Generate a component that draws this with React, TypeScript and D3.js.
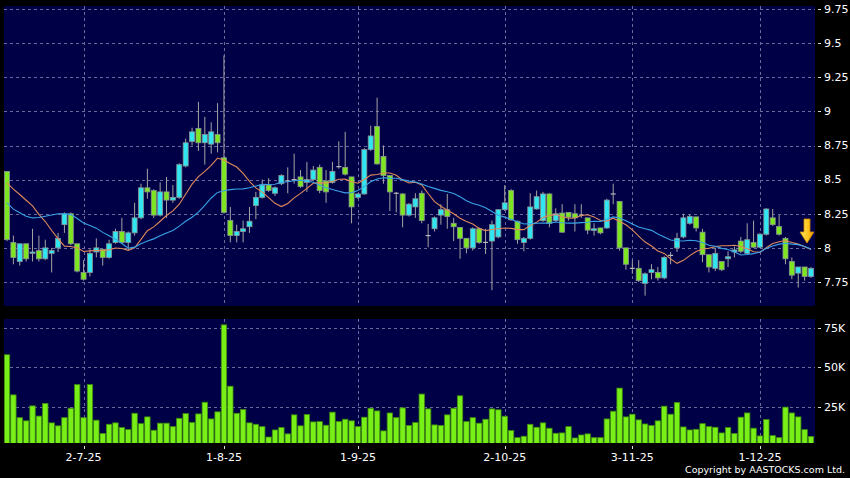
import React from 'react';
import * as d3 from 'd3';

// Daily OHLC (HK$), oldest first
const opens = [
  8.56, 8.04, 7.90, 8.03, 7.96, 7.98, 7.92, 7.96, 8.00, 8.17,
  8.25, 8.03, 7.82, 7.82, 7.97, 7.99, 7.93, 8.04, 8.12, 8.04,
  8.11, 8.22, 8.44, 8.42, 8.24, 8.41, 8.35, 8.37, 8.60, 8.78,
  8.875, 8.77, 8.76, 8.83, 8.66, 8.20, 8.09, 8.12, 8.155, 8.31,
  8.37, 8.46, 8.40, 8.47, 8.49, 8.50, 8.52, 8.48, 8.50, 8.59,
  8.49, 8.48, 8.595, 8.59, 8.52, 8.37, 8.395, 8.72, 8.89, 8.67,
  8.53, 8.40, 8.395, 8.24, 8.30, 8.40, 8.09, 8.14, 8.24, 8.28,
  8.18, 8.15, 8.07, 8.00, 8.14, 8.04, 8.05, 8.08, 8.28, 8.42,
  8.195, 8.04, 8.07, 8.285, 8.20, 8.395, 8.20, 8.255, 8.26, 8.25,
  8.24, 8.22, 8.127, 8.146, 8.146, 8.395, 8.34, 8.00, 7.85, 7.85,
  7.74, 7.82, 7.82, 7.78, 7.945, 8.00, 8.08, 8.18, 8.227, 8.115,
  7.95, 7.85, 7.90, 7.92, 7.97, 8.05, 7.96, 8.04, 8.005, 8.10,
  8.22, 8.156, 8.07, 7.90, 7.815, 7.86, 7.79,
];
const highs = [
  8.56, 8.09, 8.03, 8.03, 8.14, 8.09, 8.06, 8.00, 8.11, 8.26,
  8.26, 8.03, 7.91, 7.99, 8.07, 7.99, 8.06, 8.14, 8.22, 8.12,
  8.33, 8.47, 8.58, 8.43, 8.48, 8.52, 8.46, 8.62, 8.80, 8.88,
  9.07, 8.96, 8.92, 9.06, 9.41, 8.30, 8.17, 8.20, 8.30, 8.41,
  8.50, 8.51, 8.45, 8.54, 8.59, 8.69, 8.57, 8.63, 8.60, 8.61,
  8.57, 8.63, 8.78, 8.85, 8.52, 8.40, 8.73, 8.895, 9.10, 8.75,
  8.53, 8.41, 8.40, 8.33, 8.40, 8.42, 8.175, 8.23, 8.32, 8.395,
  8.22, 8.15, 8.07, 8.15, 8.15, 8.14, 8.20, 8.28, 8.46, 8.43,
  8.20, 8.08, 8.40, 8.42, 8.41, 8.40, 8.29, 8.32, 8.26, 8.32,
  8.32, 8.22, 8.18, 8.146, 8.36, 8.47, 8.34, 8.00, 7.91, 7.91,
  7.82, 7.88, 7.86, 7.94, 7.97, 8.11, 8.25, 8.245, 8.227, 8.14,
  7.95, 8.00, 7.90, 7.975, 8.01, 8.08, 8.18, 8.20, 8.11, 8.29,
  8.285, 8.24, 8.08, 7.93, 7.86, 7.86, 7.86,
];
const lows = [
  8.05, 7.88, 7.87, 7.90, 7.90, 7.90, 7.91, 7.82, 7.97, 8.11,
  8.02, 7.82, 7.76, 7.79, 7.93, 7.87, 7.92, 8.03, 8.03, 7.985,
  8.09, 8.21, 8.36, 8.22, 8.23, 8.22, 8.33, 8.36, 8.59, 8.75,
  8.71, 8.61, 8.69, 8.70, 8.25, 8.04, 8.04, 8.04, 8.11, 8.21,
  8.36, 8.41, 8.38, 8.46, 8.40, 8.47, 8.44, 8.41, 8.49, 8.40,
  8.33, 8.47, 8.58, 8.53, 8.18, 8.36, 8.39, 8.71, 8.61, 8.47,
  8.27, 8.26, 8.15, 8.23, 8.22, 8.18, 8.005, 8.12, 8.17, 8.14,
  8.05, 7.92, 7.96, 7.98, 8.03, 7.955, 7.69, 8.07, 8.27, 8.20,
  8.03, 7.975, 8.06, 8.28, 8.19, 8.15, 8.19, 8.11, 8.20, 8.12,
  8.22, 8.10, 8.09, 8.10, 8.14, 8.32, 7.98, 7.84, 7.81, 7.75,
  7.65, 7.77, 7.76, 7.77, 7.88, 7.97, 8.07, 8.17, 8.12, 7.895,
  7.82, 7.83, 7.83, 7.86, 7.93, 7.96, 7.95, 8.00, 8.00, 8.09,
  8.16, 8.09, 7.88, 7.77, 7.71, 7.76, 7.78,
];
const closes = [
  8.06, 7.93, 8.03, 7.92, 7.97, 7.92, 8.00, 7.98, 8.07, 8.25,
  8.03, 7.83, 7.77, 7.96, 8.00, 7.93, 8.03, 8.12, 8.04, 8.11,
  8.22, 8.44, 8.41, 8.24, 8.41, 8.35, 8.37, 8.61, 8.77, 8.85,
  8.77, 8.83, 8.85, 8.77, 8.26, 8.09, 8.12, 8.14, 8.195, 8.37,
  8.46, 8.42, 8.44, 8.53, 8.49, 8.50, 8.45, 8.50, 8.57, 8.42,
  8.41, 8.56, 8.595, 8.54, 8.30, 8.395, 8.72, 8.82, 8.615, 8.53,
  8.41, 8.40, 8.24, 8.32, 8.36, 8.20, 8.09, 8.22, 8.28, 8.23,
  8.155, 8.07, 8.00, 8.14, 8.04, 8.04, 8.17, 8.28, 8.33, 8.205,
  8.06, 8.07, 8.30, 8.375, 8.395, 8.18, 8.25, 8.115, 8.225, 8.22,
  8.24, 8.13, 8.14, 8.11, 8.35, 8.395, 8.00, 7.88, 7.85, 7.76,
  7.81, 7.84, 7.78, 7.93, 7.945, 8.07, 8.22, 8.23, 8.146, 7.95,
  7.86, 7.96, 7.84, 7.935, 7.985, 7.975, 8.06, 8.005, 8.10, 8.285,
  8.17, 8.10, 7.92, 7.80, 7.86, 7.79, 7.85,
];
// Volume, thousands of shares
const volumes = [
  58, 32.5, 18, 16, 25.5, 19, 27, 14.7, 12.8, 18,
  24, 39, 18, 39, 16.4, 7.9, 13.8, 14.7, 11.7, 10.4,
  20.8, 14.2, 18.5, 10, 14.5, 14.5, 12.3, 17.6, 20.6, 14.9,
  20.4, 27.8, 17.2, 21.7, 77, 38, 20.8, 23.2, 14.7, 13.8,
  12.3, 5.7, 10.2, 11.7, 7.7, 19.8, 12.8, 20, 15.3, 15.5,
  13.2, 21.5, 15.5, 17, 16, 12.3, 18.3, 24, 22.3, 9.6,
  21, 18, 24.2, 13, 14.9, 33, 23.6, 13.4, 13, 19.8,
  24, 31.9, 15.5, 18, 14.5, 17, 23.6, 23, 18.9, 9.8,
  5.3, 6.2, 13.8, 11.9, 14.7, 11.3, 8.1, 8.3, 12.3, 5.1,
  7, 7.7, 5.3, 5.3, 17.2, 22.1, 36.8, 18.5, 20.2, 16.6,
  14, 13, 16, 25.3, 20.2, 27.6, 12.1, 10.2, 10.6, 14.2,
  12.3, 11.9, 8.3, 11.7, 7.9, 18.3, 21, 11.3, 6.4, 16.8,
  6.6, 5.3, 24.7, 21, 18.5, 10.4, 6,
];
// Closes before the visible window (estimated from where the moving averages start)
const priorCloses = [
  8.85, 8.55, 8.45, 8.20, 7.85, 7.82, 7.80, 7.90, 8.25, 8.15,
  8.40, 8.42, 8.34, 8.38, 8.55, 8.52, 8.64, 8.66, 8.80,
];
const tickIndex = [12, 34, 55, 78, 98, 118];
const tickLabels = ['2-7-25', '1-8-25', '1-9-25', '2-10-25', '3-11-25', '1-12-25'];
const priceTicks = [7.75, 8, 8.25, 8.5, 8.75, 9, 9.25, 9.5, 9.75];
const volumeTicks = [25, 50, 75];
const maPeriods = [10, 20];

const W = 850;
const H = 478;
const P = { x: 4, y: 6, w: 811, h: 300 };
const V = { x: 4, y: 319, w: 811, h: 124 };
const PANEL = '#000046';
const GRID = '#6a6a9c';
const UP = '#30e6f0';
const DOWN = '#7ee620';
const FONT = 'DejaVu Sans, Verdana, sans-serif';
const MA_COLORS = ['#e0895a', '#3aa2e6'];

export default function App() {
  const n = closes.length;
  const x = d3.scaleLinear().domain([0, n - 1]).range([7, 811]);
  const y = d3.scaleLinear().domain([7.75, 9.75]).range([282, 9]);
  const yv = d3.scaleLinear().domain([0, 75]).range([446, 328]);

  const all = priorCloses.concat(closes);
  const off = priorCloses.length;
  const maSeries = maPeriods.map((p) =>
    closes.map((_, i) => d3.mean(all.slice(i + off - p + 1, i + off + 1)) as number)
  );
  const line = d3
    .line<number>()
    .x((_, i) => x(i))
    .y((d) => y(d));

  const bw = 5;
  const vw = 5.4;
  const lastI = n - 1;
  const ax = x(lastI) - 4;
  const ayTip = y(highs[lastI]) - 24;

  return (
    <svg
      width={W}
      height={H}
      style={{ position: 'fixed', left: 0, top: 0, display: 'block' }}
      fontFamily={FONT}
    >
      <defs>
        <clipPath id="clipP">
          <rect x={P.x} y={P.y} width={P.w} height={P.h} />
        </clipPath>
        <clipPath id="clipV">
          <rect x={V.x} y={V.y} width={V.w} height={V.h} />
        </clipPath>
        <linearGradient id="arrowG" x1="0" x2="1" y1="0" y2="0">
          <stop offset="0" stopColor="#ffe866" />
          <stop offset="0.6" stopColor="#ffc21a" />
          <stop offset="1" stopColor="#e89400" />
        </linearGradient>
      </defs>
      <rect x={0} y={0} width={W} height={H} fill="#000" />
      <rect x={P.x} y={P.y} width={P.w} height={P.h} fill={PANEL} />
      <rect x={V.x} y={V.y} width={V.w} height={V.h} fill={PANEL} />

      {/* price grid */}
      {priceTicks.map((t) => (
        <g key={'pt' + t}>
          <line x1={P.x} x2={P.x + P.w} y1={Math.round(y(t)) + 0.5} y2={Math.round(y(t)) + 0.5}
            stroke={GRID} strokeDasharray="3,3" />
          <line x1={818} x2={821} y1={Math.round(y(t)) + 0.5} y2={Math.round(y(t)) + 0.5} stroke="#ddd" />
          <text x={824} y={y(t)} dy="0.35em" fill="#fff" fontSize={11}>{String(t)}</text>
        </g>
      ))}
      {/* volume grid */}
      {volumeTicks.map((t) => (
        <g key={'vt' + t}>
          <line x1={V.x} x2={V.x + V.w} y1={Math.round(yv(t)) + 0.5} y2={Math.round(yv(t)) + 0.5}
            stroke={GRID} strokeDasharray="3,3" />
          <line x1={818} x2={821} y1={Math.round(yv(t)) + 0.5} y2={Math.round(yv(t)) + 0.5} stroke="#ddd" />
          <text x={824} y={yv(t)} dy="0.35em" fill="#fff" fontSize={11}>{t + 'K'}</text>
        </g>
      ))}
      {/* vertical grid + x ticks */}
      {tickIndex.map((ti, k) => {
        const xx = Math.round(x(ti)) + 0.5;
        return (
          <g key={'xt' + ti}>
            <line x1={xx} x2={xx} y1={P.y} y2={P.y + P.h} stroke={GRID} strokeDasharray="3,3" />
            <line x1={xx} x2={xx} y1={V.y} y2={V.y + V.h} stroke={GRID} strokeDasharray="3,3" />
            <line x1={xx} x2={xx} y1={446} y2={449} stroke="#ddd" />
            <text x={x(ti)} y={461} textAnchor="middle" fill="#fff" fontSize={11}>{tickLabels[k]}</text>
          </g>
        );
      })}

      {/* candles */}
      <g clipPath="url(#clipP)">
        {closes.map((c, i) => {
          const o = opens[i];
          const cx = x(i);
          const up = c > o;
          const top = y(Math.max(o, c));
          const bot = y(Math.min(o, c));
          return (
            <g key={'c' + i}>
              <line x1={cx} x2={cx} y1={y(highs[i])} y2={y(lows[i])} stroke="#a4a4a4" strokeWidth={1} />
              {o === c ? (
                <line x1={cx - bw / 2} x2={cx + bw / 2} y1={top} y2={top} stroke="#b8b8b8" strokeWidth={1.2} />
              ) : (
                <rect x={cx - bw / 2} y={top} width={bw} height={Math.max(1, bot - top)}
                  fill={up ? UP : DOWN} stroke="#8a9494" strokeWidth={0.8} />
              )}
            </g>
          );
        })}
        {maSeries.map((s, k) => (
          <path key={'ma' + k} d={line(s) || ''} fill="none" stroke={MA_COLORS[k]} strokeWidth={1.1} />
        ))}
        <path
          d={`M${ax - 3},${ayTip - 24} L${ax + 3},${ayTip - 24} L${ax + 3},${ayTip - 11} L${ax + 7},${ayTip - 11} L${ax},${ayTip} L${ax - 7},${ayTip - 11} L${ax - 3},${ayTip - 11} Z`}
          fill="url(#arrowG)" stroke="#d08a00" strokeWidth={0.8}
        />
      </g>

      {/* volume */}
      <g clipPath="url(#clipV)">
        {volumes.map((v, i) => (
          <rect key={'v' + i} x={x(i) - vw / 2} y={yv(v)} width={vw} height={yv(0) - yv(v)}
            fill="#78f018" stroke="#3f8c0e" strokeWidth={0.8} />
        ))}
      </g>

      <text x={845} y={473} textAnchor="end" fill="#fff" fontSize={9.5}>Copyright by AASTOCKS.com Ltd.</text>
    </svg>
  );
}
